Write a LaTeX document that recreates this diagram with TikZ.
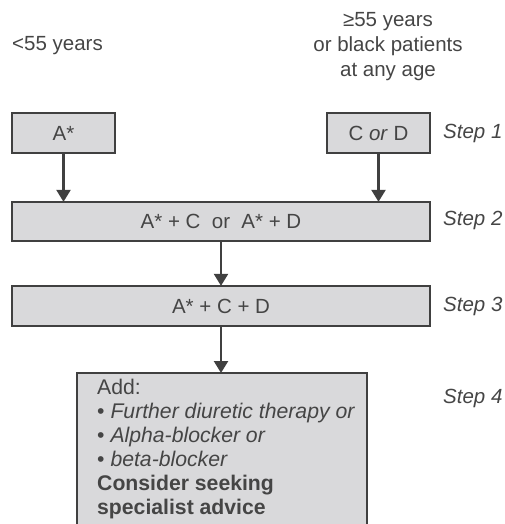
\documentclass[tikz,border=0pt]{standalone}
\usepackage{fontspec}
\setmainfont{Liberation Sans}
\usetikzlibrary{arrows.meta}
\definecolor{boxfill}{HTML}{D9D9DB}
\definecolor{boxline}{HTML}{404040}
\definecolor{txt}{HTML}{454545}
\tikzset{
  x=1pt, y=-1pt,
  stepbox/.style={draw=boxline, fill=boxfill, line width=2.3pt, inner sep=0pt, text=txt, font=\fontsize{20.5}{24}\selectfont},
  steplabel/.style={anchor=west, inner sep=0pt, text=txt, font=\fontsize{20.5}{24}\selectfont\itshape},
  plain/.style={inner sep=0pt, text=txt, font=\fontsize{20.5}{24}\selectfont},
  conn/.style={draw=boxline, line width=2.3pt, -{Triangle[length=12pt,width=14pt]}}
}
\begin{document}
\begin{tikzpicture}
\useasboundingbox (0,0) rectangle (505,524);
\clip (0,0) rectangle (505,524);
\node[plain, anchor=west] (young) at (12,46) {<55 years};
\node[plain, align=center, font=\fontsize{20.5}{25}\selectfont] (old) at (388,47) {≥55 years\\or black patients\\at any age};
\node[stepbox, minimum width=103pt, minimum height=40pt] (a) at (63.5,133) {A*};
\node[stepbox, minimum width=103pt, minimum height=40pt] (cd) at (378.5,133) {C \textit{or} D};
\node[stepbox, minimum width=418pt, minimum height=39pt] (s2) at (221,221.5) {A* + C~ or~ A* + D};
\node[stepbox, minimum width=418pt, minimum height=40pt] (s3) at (221,306) {A* + C + D};
\node[stepbox, minimum width=290pt, minimum height=170pt, anchor=north west] (s4) at (76,372) {};
\node[plain, anchor=north west, align=left, font=\fontsize{21.2}{24}\selectfont] (s4t) at (97,379)
 {Add:\\• \textit{Further diuretic therapy or}\\• \textit{Alpha-blocker or}\\• \textit{beta-blocker}\\\textbf{Consider seeking}\\\textbf{specialist advice}};
\node[steplabel] (l1) at (443,133) {Step 1};
\node[steplabel] (l2) at (443,220) {Step 2};
\node[steplabel] (l3) at (443,306) {Step 3};
\node[steplabel] (l4) at (443,398) {Step 4};
\coordinate (a2) at (a.south |- s2.north);
\draw[conn] (a.south) -- ([yshift=-1pt]a2);
\coordinate (cd2) at (cd.south |- s2.north);
\draw[conn] (cd.south) -- ([yshift=-1pt]cd2);
\draw[conn] (s2.south) -- ([yshift=-1pt]s3.north);
\coordinate (s4n) at (s2.south |- s4.north);
\draw[conn] (s3.south) -- ([yshift=-1pt]s4n);
\end{tikzpicture}
\end{document}
